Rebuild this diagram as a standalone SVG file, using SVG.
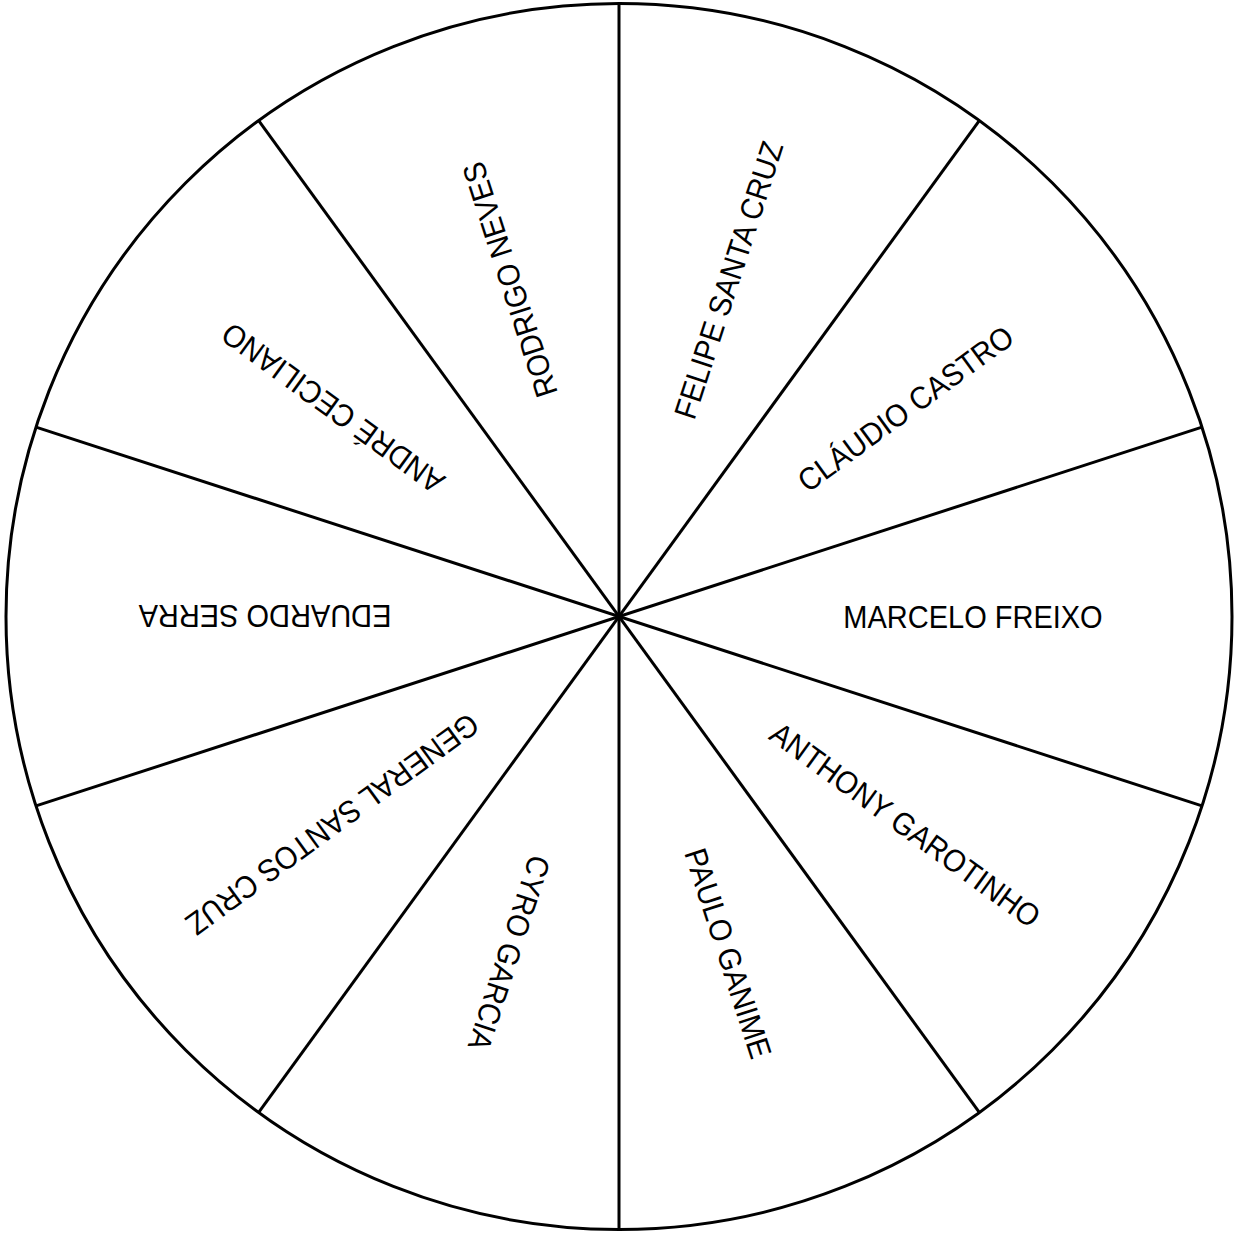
<svg xmlns="http://www.w3.org/2000/svg" width="1237" height="1235" viewBox="0 0 1237 1235">
<style>
.ring{fill:#fff;stroke:#000;stroke-width:3}
.spoke{stroke:#000;stroke-width:3;fill:none}
.lbl{font-family:"Liberation Sans",Arial,sans-serif;font-size:29px;fill:#000;text-anchor:middle}
</style>
<rect width="1237" height="1235" fill="#fff"/>
<circle class="ring" cx="619" cy="616.5" r="613"/>
<g id="connectors">
<line class="spoke" x1="619" y1="3.5" x2="619" y2="1229.5"/>
<line class="spoke" x1="979.31" y1="120.57" x2="258.69" y2="1112.43"/>
<line class="spoke" x1="1202" y1="427.07" x2="36" y2="805.93"/>
<line class="spoke" x1="1202" y1="805.93" x2="36" y2="427.07"/>
<line class="spoke" x1="979.31" y1="1112.43" x2="258.69" y2="120.57"/>
</g>
<g id="n-marcelo"><text class="lbl" transform="rotate(0 619 616.5) translate(973 616.5) scale(1 1.08)" x="0" y="10.4">MARCELO FREIXO</text></g>
<g id="n-claudio"><text class="lbl" transform="rotate(-36 619 616.5) translate(973 616.5) scale(1 1.08)" x="0" y="10.4">CLÁUDIO CASTRO</text></g>
<g id="n-felipe"><text class="lbl" transform="rotate(-72 619 616.5) translate(973 616.5) scale(1 1.08)" x="0" y="10.4">FELIPE SANTA CRUZ</text></g>
<g id="n-rodrigo"><text class="lbl" transform="rotate(-108 619 616.5) translate(973 616.5) scale(1 1.08)" x="0" y="10.4">RODRIGO NEVES</text></g>
<g id="n-andre"><text class="lbl" transform="rotate(-144 619 616.5) translate(973 616.5) scale(1 1.08)" x="0" y="10.4">ANDRÉ CECILIANO</text></g>
<g id="n-eduardo"><text class="lbl" transform="rotate(180 619 616.5) translate(973 616.5) scale(1 1.08)" x="0" y="10.4">EDUARDO SERRA</text></g>
<g id="n-general"><text class="lbl" transform="rotate(144 619 616.5) translate(973 616.5) scale(1 1.08)" x="0" y="10.4">GENERAL SANTOS CRUZ</text></g>
<g id="n-cyro"><text class="lbl" transform="rotate(108 619 616.5) translate(973 616.5) scale(1 1.08)" x="0" y="10.4">CYRO GARCIA</text></g>
<g id="n-paulo"><text class="lbl" transform="rotate(72 619 616.5) translate(973 616.5) scale(1 1.08)" x="0" y="10.4">PAULO GANIME</text></g>
<g id="n-anthony"><text class="lbl" transform="rotate(36 619 616.5) translate(973 616.5) scale(1 1.08)" x="0" y="10.4">ANTHONY GAROTINHO</text></g>
</svg>
